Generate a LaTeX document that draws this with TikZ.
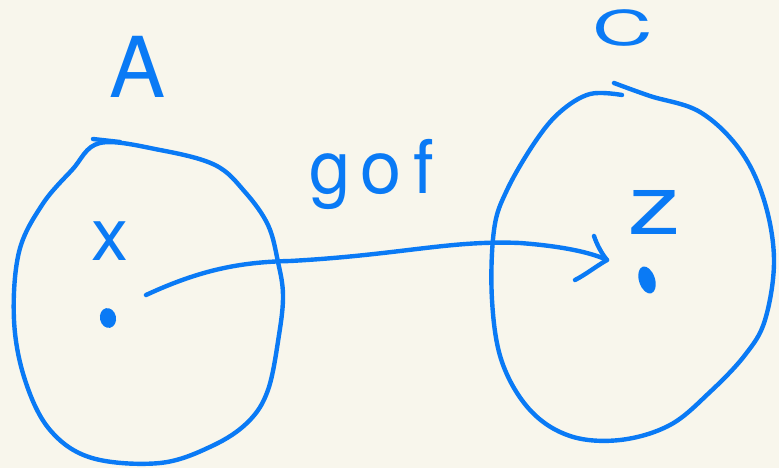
\documentclass[tikz,border=0pt]{standalone}
\usepackage{fontspec}
\setsansfont{TeX Gyre Heros}
\definecolor{paper}{HTML}{F8F6EC}
\definecolor{ink}{HTML}{0A7AF5}
\tikzset{
  pen/.style={draw=ink, line width=4.4pt, line cap=round, line join=round},
  hand/.style={text=ink, font=\sffamily, inner sep=0pt, anchor=center}
}
\begin{document}
\begin{tikzpicture}[x=1pt, y=-1pt]
  \fill[paper] (0,0) rectangle (779,468);
  \useasboundingbox (0,0) rectangle (779,468);

  % set A
  \draw[pen] plot[smooth cycle, tension=0.6] coordinates {
    (100,143) (160,150) (215,165) (245,192) (268,225) (278,262) (283,295)
    (279,335) (268,390) (248,422) (212,446) (160,463) (92,458) (50,430)
    (25,380) (14,320) (19,252) (42,205) (72,170)};
  \draw[pen] (93,139) -- (120,142);

  % set C
  \draw[pen] plot[smooth, tension=0.6] coordinates {
    (614,83) (650,96) (700,112) (740,150) (764,200) (774,260) (765,320)
    (745,355) (710,392) (670,425) (620,440) (570,436) (530,410) (502,362)
    (492,300) (494,230) (507,190) (535,142) (560,112) (590,94) (622,95)};

  % labels
  \node[hand, font=\sffamily\fontsize{84}{84}\selectfont] (labA) at (138,67) {A};
  \node[hand, font=\sffamily\fontsize{48}{48}\selectfont, xscale=1.75] (labC) at (623,28) {C};
  \node[hand, font=\sffamily\fontsize{74}{74}\selectfont] (labx) at (110,241) {x};
  \node[hand, font=\sffamily\fontsize{84}{84}\selectfont, xscale=1.25] (labz) at (655,212) {z};
  \node[hand, font=\sffamily\fontsize{74}{74}\selectfont] (labgf) at (372,174)
    {g\hspace{10pt}o\hspace{12pt}f};

  % points
  \fill[ink, rotate around={12:(108,318)}] (108,318) ellipse (8pt and 10pt);
  \fill[ink, rotate around={18:(647,280)}] (647,280) ellipse (8pt and 14pt);
  \coordinate (px) at (146,295);
  \coordinate (pz) at (607,260);

  % map g o f
  \draw[pen] (px) .. controls (200,270) and (240,262) .. (290,261)
                  .. controls (400,255) and (450,240) .. (520,243)
                  .. controls (560,246) and (590,252) .. (pz);
  \draw[pen] (594,236) .. controls (597,245) and (602,254) .. (pz)
                       .. controls (595,267) and (585,275) .. (575,280);
\end{tikzpicture}
\end{document}
